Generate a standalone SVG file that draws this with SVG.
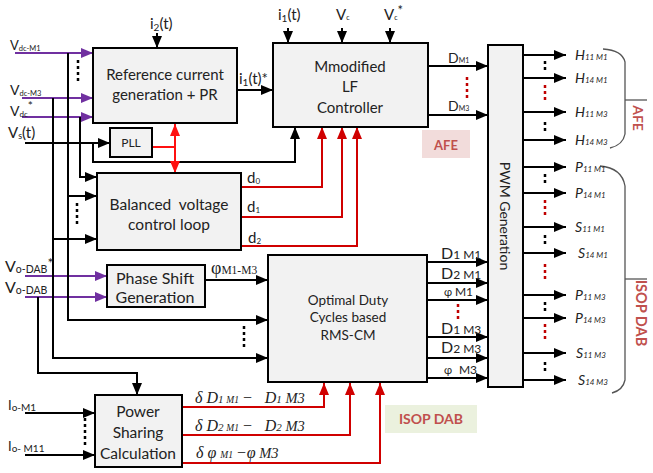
<svg xmlns="http://www.w3.org/2000/svg" width="653" height="473" viewBox="0 0 653 473">
<defs>
<style>
.box{fill:#f2f2f2;stroke:#000;stroke-width:2}
.t{font-family:Lato,"Liberation Sans",sans-serif;fill:#222}
.s{font-family:"Liberation Serif","DejaVu Serif",serif;fill:#222}
.i{font-style:italic}
.c{text-anchor:middle}
.k{fill:none;stroke:#000;stroke-width:2;marker-end:url(#ak)}
.kn{fill:none;stroke:#000;stroke-width:2}
.p{fill:none;stroke:#7030a0;stroke-width:2;marker-end:url(#ap)}
.r{fill:none;stroke:#d00000;stroke-width:2;marker-end:url(#ar)}
.rb{fill:none;stroke:#ff1010;stroke-width:2}
.dot{fill:none;stroke:#000;stroke-width:2.5;stroke-dasharray:3 3}
.rdot{fill:none;stroke:#c00000;stroke-width:2.5;stroke-dasharray:3 3}
.br{fill:none;stroke:#555;stroke-width:1.3}
.lab{fill:#c0504d;font-weight:bold}
</style>
<marker id="ak" viewBox="0 0 12 10" refX="12" refY="5" markerWidth="12" markerHeight="10" markerUnits="userSpaceOnUse" orient="auto"><path d="M0,0L12,5L0,10z" fill="#000"/></marker>
<marker id="ap" viewBox="0 0 12 10" refX="12" refY="5" markerWidth="12" markerHeight="10" markerUnits="userSpaceOnUse" orient="auto"><path d="M0,0L12,5L0,10z" fill="#7030a0"/></marker>
<marker id="ar" viewBox="0 0 12 10" refX="12" refY="5" markerWidth="12" markerHeight="10" markerUnits="userSpaceOnUse" orient="auto"><path d="M0,0L12,5L0,10z" fill="#d00000"/></marker>
<marker id="arb" viewBox="0 0 12 10" refX="12" refY="5" markerWidth="12" markerHeight="10" markerUnits="userSpaceOnUse" orient="auto"><path d="M0,0L12,5L0,10z" fill="#ff1010"/></marker>
</defs>
<rect width="653" height="473" fill="#fff"/>

<g id="connectors">
<path class="p" d="M15,53H93"/>
<path class="p" d="M22,98H93"/>
<path class="p" d="M22,117H93"/>
<path class="p" d="M25,276H107"/>
<path class="p" d="M25,297H107"/>
<path class="k" d="M25,143H110"/>
<path class="k" d="M68,53V320H268"/>
<path class="k" d="M68,196H97"/>
<path class="k" d="M53,98V358H268"/>
<path class="k" d="M53,239H97"/>
<path class="k" d="M80,117V177H97"/>
<path class="k" d="M93,143V162H295V127"/>
<path class="k" d="M38,297V373H137V395"/>
<path class="k" d="M25,413H95"/>
<path class="k" d="M25,455H95"/>
<path class="k" d="M157,33V48"/>
<path class="k" d="M237,90H273"/>
<path class="k" d="M288,28V43"/>
<path class="k" d="M342,28V43"/>
<path class="k" d="M390,28V43"/>
<path class="k" d="M428,66H488"/>
<path class="k" d="M428,115H488"/>
<path class="k" d="M205,280H268"/>
<path class="k" d="M427,262H488"/>
<path class="k" d="M427,283H488"/>
<path class="k" d="M427,300H488"/>
<path class="k" d="M427,337H488"/>
<path class="k" d="M427,358H488"/>
<path class="k" d="M427,378H488"/>
<path class="k" d="M523,55H566"/>
<path class="k" d="M523,78H566"/>
<path class="k" d="M523,112H566"/>
<path class="k" d="M523,140H566"/>
<path class="k" d="M523,167H566"/>
<path class="k" d="M523,193H566"/>
<path class="k" d="M523,227H566"/>
<path class="k" d="M523,253H566"/>
<path class="k" d="M523,295H566"/>
<path class="k" d="M523,318H566"/>
<path class="k" d="M523,353H566"/>
<path class="k" d="M523,380H566"/>
<path class="rb" d="M152,147H175"/>
<path class="rb" d="M175,148V124" marker-end="url(#arb)"/>
<path class="rb" d="M175,146V173" marker-end="url(#arb)"/>
<path class="r" d="M241,187H322V127"/>
<path class="r" d="M241,217H342V127"/>
<path class="r" d="M241,246H357V127"/>
<path class="r" d="M182,407H324V383"/>
<path class="r" d="M182,435H350V383"/>
<path class="r" d="M182,463H380V383"/>
<path class="dot" d="M78,60V83"/>
<path class="dot" d="M77,203V226"/>
<path class="dot" d="M244,326V349"/>
<path class="dot" d="M85,418V446"/>
<path class="rdot" d="M467,77V98"/>
<path class="rdot" d="M458,304V321"/>
<path class="dot" d="M545,61V71"/>
<path class="dot" d="M545,122V132"/>
<path class="dot" d="M545,174V184"/>
<path class="dot" d="M545,235V245"/>
<path class="dot" d="M545,302V312"/>
<path class="dot" d="M545,362V372"/>
<path class="rdot" d="M545,85V101"/>
<path class="rdot" d="M545,200V216"/>
<path class="rdot" d="M545,264V282"/>
<path class="rdot" d="M545,324V339"/>
<path class="br" d="M603,49Q622,50 625,62V134Q623,145 610,148"/>
<path class="br" d="M625,100H647"/>
<path class="br" d="M600,166Q622,168 625,186V380Q623,390 612,393"/>
<path class="br" d="M625,279H647"/>
</g>

<g id="input-labels" class="t">
<text x="10" y="50" font-size="13">V<tspan font-size="7.5" dy="1">dc-M1</tspan></text>
<text x="10" y="95" font-size="14">V<tspan font-size="7.5" dy="1">dc-M3</tspan></text>
<text x="10" y="116" font-size="14">V<tspan font-size="8" dy="1">dc</tspan><tspan font-size="12" dy="-7">*</tspan></text>
<text x="8" y="138" font-size="15">V<tspan font-size="9" dy="1">s</tspan><tspan dy="-1">(t)</tspan></text>
<text x="5" y="272" font-size="16">V<tspan font-size="10.5" dy="1">o-DAB</tspan><tspan font-size="14" dy="-5">*</tspan></text>
<text x="5" y="293" font-size="16">V<tspan font-size="10.5" dy="1">o-DAB</tspan></text>
<text x="8" y="410" font-size="13">I<tspan font-size="10" dy="1">o-M1</tspan></text>
<text x="8" y="451" font-size="13">I<tspan font-size="10" dy="1">o- M11</tspan></text>
<text x="150" y="29" font-size="15">i<tspan font-size="10" dy="2">2</tspan><tspan dy="-2">(t)</tspan></text>
<text x="239" y="84" font-size="15">i<tspan font-size="10" dy="2">1</tspan><tspan dy="-2">(t)*</tspan></text>
<text x="278" y="20" font-size="15">i<tspan font-size="10" dy="2">1</tspan><tspan dy="-2">(t)</tspan></text>
<text x="336" y="20" font-size="15">V<tspan font-size="7" dy="0">c</tspan></text>
<text x="384" y="20" font-size="15">V<tspan font-size="7">c</tspan><tspan font-size="13" dy="-5">*</tspan></text>
<text x="448" y="63" font-size="14">D<tspan font-size="7">M1</tspan></text>
<text x="448" y="111" font-size="14">D<tspan font-size="7">M3</tspan></text>
<text x="247" y="183" font-size="15">d<tspan font-size="8" dy="1">0</tspan></text>
<text x="247" y="212" font-size="15">d<tspan font-size="8" dy="1">1</tspan></text>
<text x="248" y="243" font-size="15">d<tspan font-size="8" dy="1">2</tspan></text>
</g>

<g id="phi-label" class="s">
<text x="211" y="274" font-size="18">φ<tspan font-size="11.5">M1-M3</tspan></text>
</g>

<g id="dab-output-labels" class="t">
<text x="441" y="259" font-size="16">D<tspan font-size="12">1 M1</tspan></text>
<text x="441" y="279" font-size="16">D<tspan font-size="12">2 M1</tspan></text>
<text x="444" y="296" font-size="11">φ <tspan font-size="12">M1</tspan></text>
<text x="441" y="334" font-size="16">D<tspan font-size="12">1 M3</tspan></text>
<text x="441" y="353" font-size="16">D<tspan font-size="12">2 M3</tspan></text>
<text x="444" y="374" font-size="11">φ  <tspan font-size="12" dx="4">M3</tspan></text>
</g>

<g id="delta-labels" class="s i">
<text x="195" y="403" font-size="16">δ D<tspan font-size="11">1 </tspan><tspan font-size="9.5">M1</tspan><tspan dx="3">−</tspan><tspan dx="12">D</tspan><tspan font-size="11">1</tspan><tspan font-size="14.5"> M3</tspan></text>
<text x="195" y="431" font-size="16">δ D<tspan font-size="11">2 </tspan><tspan font-size="9.5">M1</tspan><tspan dx="3">−</tspan><tspan dx="12">D</tspan><tspan font-size="11">2</tspan><tspan font-size="14.5"> M3</tspan></text>
<text x="196" y="458" font-size="16">δ φ <tspan font-size="9.5">M1</tspan><tspan dx="3">−φ</tspan><tspan font-size="14.5"> M3</tspan></text>
</g>

<g id="pwm-output-labels" class="t i">
<text x="575" y="60" font-size="14">H<tspan font-size="8">11 M1</tspan></text>
<text x="575" y="83" font-size="14">H<tspan font-size="8">14 M1</tspan></text>
<text x="575" y="117" font-size="14">H<tspan font-size="8">11 M3</tspan></text>
<text x="575" y="145" font-size="14">H<tspan font-size="8">14 M3</tspan></text>
<text x="575" y="172" font-size="14">P<tspan font-size="8">11 M1</tspan></text>
<text x="575" y="198" font-size="14">P<tspan font-size="8">14 M1</tspan></text>
<text x="575" y="232" font-size="14">S<tspan font-size="8">11 M1</tspan></text>
<text x="578" y="258" font-size="14">S<tspan font-size="8">14 M1</tspan></text>
<text x="575" y="300" font-size="14">P<tspan font-size="8">11 M3</tspan></text>
<text x="575" y="323" font-size="14">P<tspan font-size="8">14 M3</tspan></text>
<text x="576" y="358" font-size="14">S<tspan font-size="8">11 M3</tspan></text>
<text x="578" y="385" font-size="14">S<tspan font-size="8">14 M3</tspan></text>
</g>

<g id="ref-current">
<rect class="box" x="93" y="48" width="144" height="75"/>
<text class="t c" x="165" y="80" font-size="15">Reference current</text>
<text class="t c" x="165" y="100" font-size="15">generation + PR</text>
</g>

<g id="pll">
<rect class="box" x="110" y="128" width="42" height="29"/>
<text class="t c" x="131" y="147" font-size="12">PLL</text>
</g>

<g id="lf-controller">
<rect class="box" x="273" y="43" width="155" height="84"/>
<text class="t c" x="350" y="72" font-size="15">Mmodified</text>
<text class="t c" x="350" y="92" font-size="15">LF</text>
<text class="t c" x="350" y="113" font-size="15">Controller</text>
</g>

<g id="afe-tag">
<rect x="422" y="130" width="48" height="28" fill="#f2dcdb"/>
<text class="t c lab" x="446" y="150" font-size="13">AFE</text>
</g>

<g id="balanced">
<rect class="box" x="97" y="173" width="144" height="77"/>
<text class="t c" x="169" y="210" font-size="15.5" style="white-space:pre">Balanced  voltage</text>
<text class="t c" x="169" y="230" font-size="15.5">control loop</text>
</g>

<g id="phase-shift">
<rect class="box" x="107" y="265" width="98" height="42"/>
<text class="t c" x="155" y="284" font-size="16">Phase Shift</text>
<text class="t c" x="155" y="303" font-size="16">Generation</text>
</g>

<g id="optimal">
<rect class="box" x="268" y="255" width="159" height="127"/>
<text class="t c" x="348" y="305" font-size="13.5">Optimal Duty</text>
<text class="t c" x="348" y="322" font-size="13.5">Cycles based</text>
<text class="t c" x="348" y="340" font-size="13.5">RMS-CM</text>
</g>

<g id="power-sharing">
<rect class="box" x="95" y="395" width="87" height="72"/>
<text class="t c" x="138" y="417" font-size="15.5">Power</text>
<text class="t c" x="138" y="438" font-size="15.5">Sharing</text>
<text class="t c" x="138" y="459" font-size="15.5">Calculation</text>
</g>

<g id="isop-tag">
<rect x="385" y="405" width="92" height="28" fill="#ebf1de"/>
<text class="t c lab" x="431" y="424" font-size="14">ISOP DAB</text>
</g>

<g id="pwm">
<rect class="box" x="488" y="45" width="35" height="342"/>
<text class="t c" transform="translate(500,216) rotate(90)" font-size="14">PWM Generation</text>
</g>

<g id="group-labels">
<text class="t c lab" transform="translate(633,118) rotate(90)" font-size="14">AFE</text>
<text class="t c lab" transform="translate(636,313) rotate(90)" font-size="14.5">ISOP DAB</text>
</g>
</svg>
